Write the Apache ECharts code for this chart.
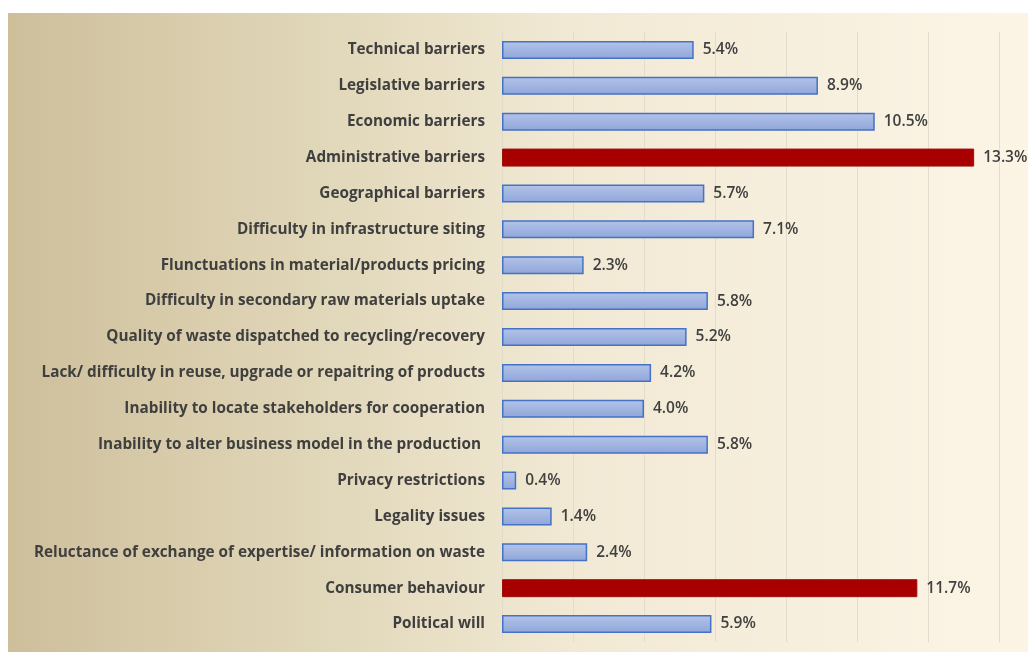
<!DOCTYPE html>
<html>
<head>
<meta charset="utf-8">
<style>
  html, body { margin: 0; padding: 0; background: #ffffff; }
  #chart { width: 1028px; height: 652px; }
</style>
<script src="https://cdn.jsdelivr.net/npm/echarts@6/dist/echarts.min.js"></script>
</head>
<body>
<div id="chart"></div>
<script>
// Reported barriers, top to bottom
const categories = [
  'Technical barriers',
  'Legislative barriers',
  'Economic barriers',
  'Administrative barriers',
  'Geographical barriers',
  'Difficulty in infrastructure siting',
  'Flunctuations in material/products pricing',
  'Difficulty in secondary raw materials uptake',
  'Quality of waste dispatched to recycling/recovery',
  'Lack/ difficulty in reuse, upgrade or repaitring of products',
  'Inability to locate stakeholders for cooperation',
  'Inability to alter business model in the production ',
  'Privacy restrictions',
  'Legality issues',
  'Reluctance of exchange of expertise/ information on waste',
  'Consumer behaviour',
  'Political will'
];
// Share of responses, %
const values = [5.4, 8.9, 10.5, 13.3, 5.7, 7.1, 2.3, 5.8, 5.2, 4.2, 4.0, 5.8, 0.4, 1.4, 2.4, 11.7, 5.9];
// Barriers highlighted in red
const highlighted = ['Administrative barriers', 'Consumer behaviour'];

const blueFill = new echarts.graphic.LinearGradient(0, 0, 0, 1, [
  { offset: 0, color: '#b4c4e8' },
  { offset: 1, color: '#8fa6da' }
]);

const chart = echarts.init(document.getElementById('chart'), null, { renderer: 'canvas' });

chart.setOption({
  animation: false,
  graphic: [{
    type: 'rect',
    z: -10,
    silent: true,
    shape: { x: 8, y: 13, width: 1020, height: 639 },
    style: {
      fill: new echarts.graphic.LinearGradient(0, 0, 1, 0, [
        { offset: 0, color: '#cebf9b' },
        { offset: 0.3, color: '#e0d6b8' },
        { offset: 0.55, color: '#f1e9d4' },
        { offset: 1, color: '#fcf5e6' }
      ])
    }
  }],
  grid: { left: 502, right: 29, top: 32, bottom: 10, containLabel: false },
  xAxis: {
    type: 'value',
    min: 0,
    max: 14,
    interval: 2,
    axisLabel: { show: false },
    axisLine: { show: false },
    axisTick: { show: false },
    splitLine: { show: true, lineStyle: { color: '#e4dccb', width: 1 } }
  },
  yAxis: {
    type: 'category',
    data: categories,
    inverse: true,
    axisLine: { show: false },
    axisTick: { show: false },
    axisLabel: {
      margin: 17,
      color: '#3f3f3f',
      fontFamily: 'Open Sans',
      fontWeight: 700,
      fontSize: 15.3
    }
  },
  series: [{
    type: 'bar',
    barWidth: 18,
    data: values.map((v, i) => {
      const hot = highlighted.includes(categories[i]);
      return {
        value: v,
        itemStyle: hot
          ? { color: '#a80000', borderColor: '#9a1010', borderWidth: 1 }
          : { color: blueFill, borderColor: '#4472c4', borderWidth: 1.5 }
      };
    }),
    label: {
      show: true,
      position: 'right',
      distance: 9,
      color: '#404040',
      fontFamily: 'Open Sans',
      fontWeight: 600,
      fontSize: 15.5,
      formatter: p => p.value.toFixed(1) + '%'
    }
  }]
});
</script>
</body>
</html>
